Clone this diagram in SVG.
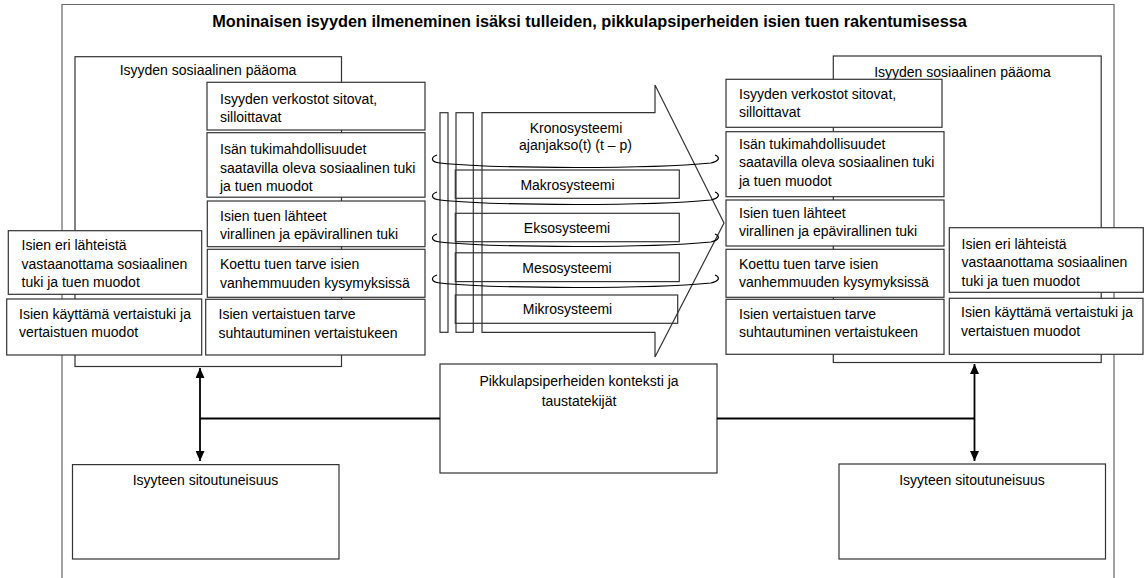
<svg xmlns="http://www.w3.org/2000/svg" width="1148" height="578" viewBox="0 0 1148 578">
<style>
.frame{fill:none;stroke:#666;stroke-width:1.2}
.box{fill:#fff;stroke:#333;stroke-width:1.2}
.sys{fill:none;stroke:#333;stroke-width:1.2}
.bar{fill:#fff;stroke:#333;stroke-width:1.2}
.ring{fill:none;stroke:#000;stroke-width:1.2}
.t{font-family:"Liberation Sans",Arial,sans-serif;font-size:14px;fill:#000}
.c{text-anchor:middle}
.title{font-weight:bold;font-size:16.3px}
.conn{fill:none;stroke:#000;stroke-width:1.8}
</style>
<defs>
<marker id="ah" markerUnits="userSpaceOnUse" markerWidth="10" markerHeight="9" viewBox="0 0 10 9" refX="10" refY="4.5" orient="auto-start-reverse"><path d="M0,0 L10,4.5 L0,9 z" fill="#000"/></marker>
</defs>
<rect width="1148" height="578" fill="#fff"/>
<g id="frame">
<path class="frame" d="M62,578 V4.5 H1114 V578"/>
<text class="t c title" x="589.5" y="27">Moninaisen isyyden ilmeneminen isäksi tulleiden, pikkulapsiperheiden isien tuen rakentumisessa</text>
</g>
<g id="systems">
<rect class="bar" x="440" y="112.7" width="8" height="219.6"/>
<rect class="bar" x="456" y="112.7" width="17.3" height="219.6"/>
<path class="bar" d="M482,112.7 H655 V85 L724,223 L655,357 V332.3 H482 Z"/>
<rect class="sys" x="455.3" y="170" width="224" height="28.3"/>
<rect class="sys" x="455.3" y="213.3" width="224" height="28.4"/>
<rect class="sys" x="455.3" y="252.8" width="224" height="28.8"/>
<rect class="sys" x="455.3" y="295" width="222.4" height="28.3"/>
<text class="t c" x="576" y="133.3">Kronosysteemi</text>
<text class="t c" x="575.5" y="150">ajanjakso(t) (t – p)</text>
<text class="t c" x="567.5" y="189.5">Makrosysteemi</text>
<text class="t c" x="567" y="232.5">Eksosysteemi</text>
<text class="t c" x="567" y="273.3">Mesosysteemi</text>
<text class="t c" x="567.5" y="314.3">Mikrosysteemi</text>
<path class="ring" d="M437,155 C431,157 430,162 440,163 C500,169 650,169 711,163 C720,161 720,157 715,155"/>
<path class="ring" d="M437,192 C431,194 430,199 440,200 C500,206 650,206 711,200 C720,198 720,194 715,192"/>
<path class="ring" d="M437,234 C431,236 430,241 440,242 C500,248 650,248 711,242 C720,240 720,236 715,234"/>
<path class="ring" d="M437,275 C431,277 430,282 440,283 C500,289 650,289 711,283 C720,281 720,277 715,275"/>
</g>
<g id="left-paaoma">
<rect class="box" x="75" y="56.7" width="266.5" height="309.8"/>
<text class="t c" x="208" y="75">Isyyden sosiaalinen pääoma</text>
</g>
<g id="left-verkostot">
<rect class="box" x="207" y="82.3" width="218" height="47.7"/>
<text class="t" x="220" y="103.5">Isyyden verkostot sitovat,</text>
<text class="t" x="220" y="122">silloittavat</text>
</g>
<g id="left-tukimahdollisuudet">
<rect class="box" x="207" y="132.7" width="218" height="64.5"/>
<text class="t" x="220" y="154">Isän tukimahdollisuudet</text>
<text class="t" x="220" y="172.5">saatavilla oleva sosiaalinen tuki</text>
<text class="t" x="220" y="191">ja tuen muodot</text>
</g>
<g id="left-lahteet">
<rect class="box" x="207.3" y="201" width="217.7" height="45.7"/>
<text class="t" x="220" y="220.5">Isien tuen lähteet</text>
<text class="t" x="220" y="239">virallinen ja epävirallinen tuki</text>
</g>
<g id="left-koettu">
<rect class="box" x="207.3" y="249.3" width="217.7" height="48"/>
<text class="t" x="220" y="269">Koettu tuen tarve isien</text>
<text class="t" x="220" y="287.5">vanhemmuuden kysymyksissä</text>
</g>
<g id="left-vertaistuen-tarve">
<rect class="box" x="205.7" y="299.3" width="219.3" height="55.7"/>
<text class="t" x="218.5" y="319">Isien vertaistuen tarve</text>
<text class="t" x="218.5" y="337.5">suhtautuminen vertaistukeen</text>
</g>
<g id="left-vastaanottama">
<rect class="box" x="8.3" y="230.7" width="193.4" height="63.6"/>
<text class="t" x="21.5" y="250">Isien eri lähteistä</text>
<text class="t" x="21.5" y="268.5">vastaanottama sosiaalinen</text>
<text class="t" x="21.5" y="287">tuki ja tuen muodot</text>
</g>
<g id="left-kayttama">
<rect class="box" x="6.7" y="299" width="195" height="56"/>
<text class="t" x="19" y="319">Isien käyttämä vertaistuki ja</text>
<text class="t" x="19" y="337">vertaistuen muodot</text>
</g>
<g id="right-paaoma">
<rect class="box" x="833.3" y="56" width="267.9" height="306.5"/>
<text class="t c" x="962.5" y="76.5">Isyyden sosiaalinen pääoma</text>
</g>
<g id="right-verkostot">
<rect class="box" x="726" y="79.3" width="216" height="48"/>
<text class="t" x="739" y="98.5">Isyyden verkostot sitovat,</text>
<text class="t" x="739" y="117">silloittavat</text>
</g>
<g id="right-tukimahdollisuudet">
<rect class="box" x="726" y="131.7" width="218" height="65"/>
<text class="t" x="739" y="148.5">Isän tukimahdollisuudet</text>
<text class="t" x="739" y="167">saatavilla oleva sosiaalinen tuki</text>
<text class="t" x="739" y="185.5">ja tuen muodot</text>
</g>
<g id="right-lahteet">
<rect class="box" x="726" y="200" width="218" height="46"/>
<text class="t" x="739" y="217.5">Isien tuen lähteet</text>
<text class="t" x="739" y="236">virallinen ja epävirallinen tuki</text>
</g>
<g id="right-koettu">
<rect class="box" x="726" y="249.3" width="218" height="48"/>
<text class="t" x="739" y="268.5">Koettu tuen tarve isien</text>
<text class="t" x="739" y="287">vanhemmuuden kysymyksissä</text>
</g>
<g id="right-vertaistuen-tarve">
<rect class="box" x="726" y="299.3" width="218" height="55"/>
<text class="t" x="739" y="319">Isien vertaistuen tarve</text>
<text class="t" x="739" y="337">suhtautuminen vertaistukeen</text>
</g>
<g id="right-vastaanottama">
<rect class="box" x="949.3" y="227.7" width="194" height="64.6"/>
<text class="t" x="961.5" y="248.5">Isien eri lähteistä</text>
<text class="t" x="961.5" y="267">vastaanottama sosiaalinen</text>
<text class="t" x="961.5" y="285.5">tuki ja tuen muodot</text>
</g>
<g id="right-kayttama">
<rect class="box" x="949.3" y="298.3" width="193.7" height="56"/>
<text class="t" x="961" y="317">Isien käyttämä vertaistuki ja</text>
<text class="t" x="961" y="335.5">vertaistuen muodot</text>
</g>
<g id="konteksti">
<rect class="box" x="440" y="364" width="277" height="109"/>
<text class="t c" x="579" y="385.5">Pikkulapsiperheiden konteksti ja</text>
<text class="t c" x="579" y="405.5">taustatekijät</text>
</g>
<g id="left-sitoutuneisuus">
<rect class="box" x="72.5" y="464.6" width="266.5" height="94.4"/>
<text class="t c" x="205.5" y="485">Isyyteen sitoutuneisuus</text>
</g>
<g id="right-sitoutuneisuus">
<rect class="box" x="839" y="464" width="266.5" height="95"/>
<text class="t c" x="972" y="485">Isyyteen sitoutuneisuus</text>
</g>
<g id="connectors">
<line class="conn" x1="200" y1="368" x2="200" y2="461" marker-start="url(#ah)" marker-end="url(#ah)"/>
<path class="conn" d="M200,418.5 H440"/>
<line class="conn" x1="974.5" y1="364" x2="974.5" y2="461" marker-start="url(#ah)" marker-end="url(#ah)"/>
<path class="conn" d="M717,418.5 H974.5"/>
</g>
</svg>
